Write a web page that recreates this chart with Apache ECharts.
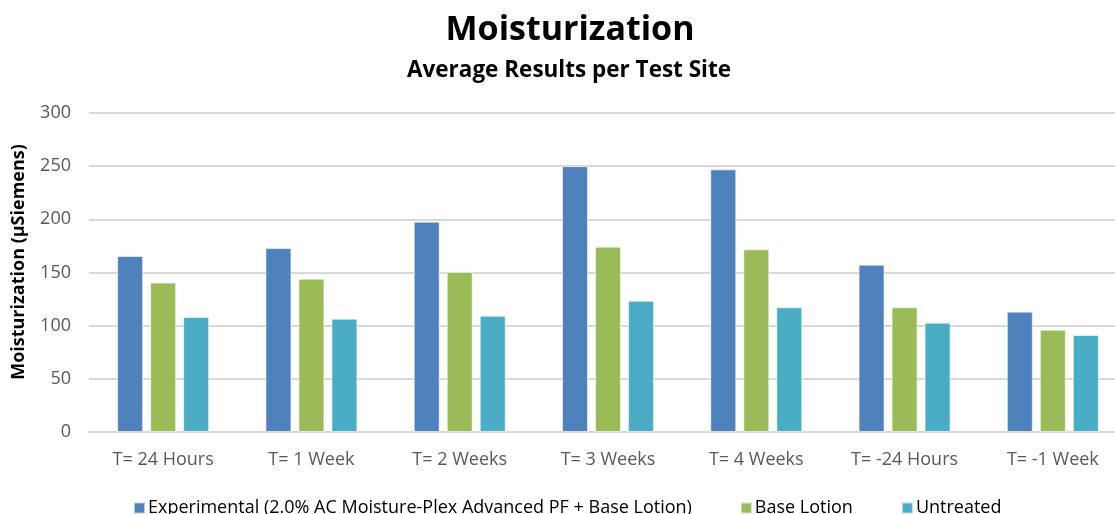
<!DOCTYPE html>
<html>
<head>
<meta charset="utf-8">
<script src="https://cdn.jsdelivr.net/npm/echarts@6/dist/echarts.min.js"></script>
<style>
html, body { margin: 0; padding: 0; background: #fff; }
#chart { width: 1115px; height: 514px; }
</style>
</head>
<body>
<div id="chart"></div>
<script>
const categories = ['T= 24 Hours', 'T= 1 Week', 'T= 2 Weeks', 'T= 3 Weeks', 'T= 4 Weeks', 'T= -24 Hours', 'T= -1 Week'];
const experimental = [165.5, 173, 197.8, 250, 247, 157.4, 113.2];
const baseLotion = [140.5, 144.2, 150.5, 174.3, 171.8, 117.3, 96.2];
const untreated = [108.2, 106.6, 109.4, 123.5, 117.3, 102.8, 91.2];
const seriesNames = ['Experimental (2.0% AC Moisture-Plex Advanced PF + Base Lotion)', 'Base Lotion', 'Untreated'];

const font = '"Open Sans", Lato, sans-serif';
const colors = ['#4F81BD', '#9BBB59', '#4BACC6'];

function makeSeries(name, data, color) {
    return {
        name: name,
        type: 'bar',
        data: data,
        barWidth: 26,
        barGap: '27%',
        itemStyle: {color: color, borderColor: 'rgba(255,255,255,0.6)', borderWidth: 1}
    };
}

const chart = echarts.init(document.getElementById('chart'));
chart.setOption({
    animation: false,
    color: colors,
    title: [
        {
            text: 'Moisturization',
            left: 565, top: 8, textAlign: 'center',
            textStyle: {fontFamily: font, fontSize: 34, fontWeight: 'bold', color: '#000'}
        },
        {
            text: 'Average Results per Test Site',
            left: 564, top: 54, textAlign: 'center',
            textStyle: {fontFamily: font, fontSize: 22.5, fontWeight: 'bold', color: '#000'}
        }
    ],
    legend: {
        top: 494,
        left: 128,
        itemWidth: 11,
        itemHeight: 11,
        itemGap: 48,
        icon: 'rect',
        textStyle: {fontFamily: font, fontSize: 18, color: '#000', padding: [0, 0, 0, -2]},
        data: seriesNames
    },
    // y axis title, placed by hand so it sits a little above the plot's centre
    graphic: [{
        type: 'text',
        x: 19, y: 262,
        rotation: Math.PI / 2,
        style: {
            text: 'Moisturization (µSiemens)',
            fontFamily: font, fontSize: 18, fontWeight: 'bold', fill: '#000',
            align: 'center', verticalAlign: 'middle'
        }
    }],
    grid: {left: 89, top: 113, width: 1038, height: 319, outerBoundsMode: 'none'},
    xAxis: {
        type: 'category',
        data: categories,
        axisLine: {lineStyle: {color: '#d9d9d9', width: 2}},
        axisTick: {show: false},
        axisLabel: {fontFamily: font, fontSize: 18, color: '#595959', margin: 19}
    },
    yAxis: {
        type: 'value',
        min: 0, max: 300, interval: 50,
        axisLabel: {fontFamily: font, fontSize: 18, color: '#595959', margin: 18},
        splitLine: {lineStyle: {color: '#d9d9d9', width: 2}}
    },
    series: [
        makeSeries(seriesNames[0], experimental, colors[0]),
        makeSeries(seriesNames[1], baseLotion, colors[1]),
        makeSeries(seriesNames[2], untreated, colors[2])
    ]
});
</script>
</body>
</html>
